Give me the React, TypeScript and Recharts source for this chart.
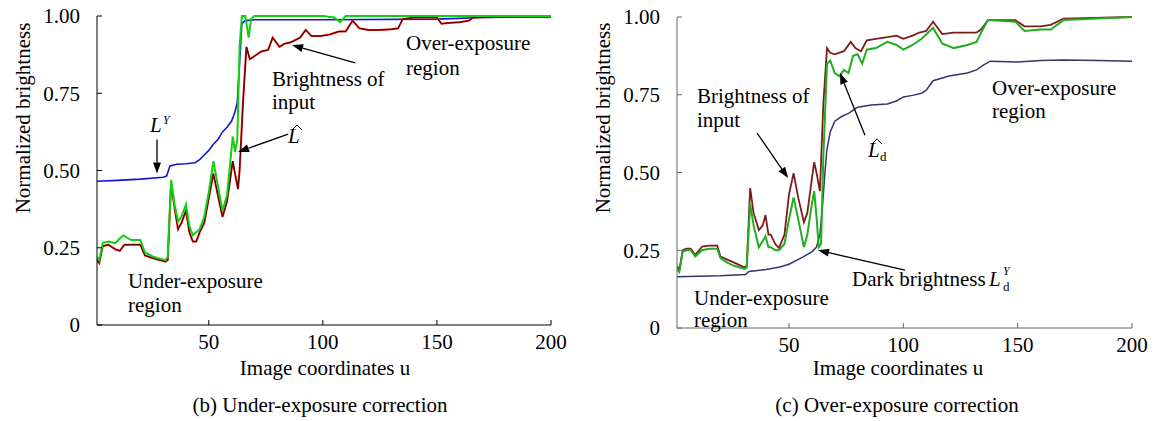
import React from "react";
import { LineChart, Line, XAxis, YAxis, ReferenceLine } from "recharts";

const FONT = '"Liberation Serif", "Times New Roman", serif';

const xTicks = [50, 100, 150, 200];
const yTicks = [0, 0.25, 0.5, 0.75, 1];

// (b) under-exposure correction
const underLumaU = [1, 10, 20, 30, 31.5, 33, 36, 40, 44, 46, 48, 50, 52, 54, 56, 58, 60, 61.5, 62.5, 63.5, 64.5, 66, 70, 100, 150, 170, 200];
const underLumaV = [0.465, 0.468, 0.472, 0.478, 0.482, 0.515, 0.52, 0.522, 0.525, 0.535, 0.55, 0.565, 0.585, 0.6, 0.625, 0.64, 0.66, 0.69, 0.72, 0.85, 0.975, 0.985, 0.988, 0.988, 0.99, 0.995, 0.997];

const underInputU = [1, 2, 3.5, 6, 9, 11, 13, 16, 20, 22, 26, 31, 32, 33.5, 35, 36.5, 38, 40, 41.5, 43, 44.5, 46, 48, 50, 52, 54, 56, 58, 60.5, 61.5, 62.8, 63.5, 65, 66.5, 68, 70, 73, 76, 78, 80, 81, 83, 86, 90, 92.5, 95, 99, 103, 107, 110, 113, 116, 120, 125, 130, 133, 135, 140, 150, 152, 156, 160, 164, 166, 175, 200];
const underInputV = [0.21, 0.2, 0.255, 0.26, 0.245, 0.24, 0.26, 0.26, 0.26, 0.225, 0.215, 0.205, 0.21, 0.46, 0.38, 0.31, 0.33, 0.37, 0.3, 0.27, 0.27, 0.3, 0.33, 0.41, 0.49, 0.42, 0.35, 0.4, 0.53, 0.49, 0.44, 0.5, 0.72, 0.9, 0.86, 0.87, 0.885, 0.89, 0.93, 0.91, 0.9, 0.91, 0.915, 0.93, 0.955, 0.935, 0.935, 0.94, 0.95, 0.95, 0.985, 0.96, 0.955, 0.955, 0.957, 0.96, 0.99, 0.995, 0.995, 0.975, 0.978, 0.98, 0.985, 0.995, 0.997, 0.998];

const underHatU = [1, 2, 3.5, 6, 9, 11, 12.5, 16, 20, 22, 26, 31, 32, 33.5, 35, 36.5, 38, 40, 41.5, 43, 44.5, 46, 48, 50, 52, 54, 56, 58, 60.5, 61.5, 62.5, 63.5, 64.5, 66, 67.5, 68.5, 70, 100, 105, 107.5, 110, 200];
const underHatV = [0.22, 0.21, 0.265, 0.27, 0.265, 0.28, 0.29, 0.275, 0.275, 0.235, 0.22, 0.21, 0.22, 0.47, 0.39, 0.335, 0.35, 0.39, 0.32, 0.29, 0.3, 0.31, 0.35, 0.43, 0.53, 0.45, 0.37, 0.42, 0.61, 0.56, 0.6, 0.9, 1.0, 1.0, 0.93, 0.99, 1.0, 1.0, 0.995, 0.98, 1.0, 1.0];

// (c) over-exposure correction
const overDarkU = [1, 10, 20, 31, 32.5, 40, 46, 50, 56, 60, 62, 63.5, 64.5, 65.5, 66.5, 68, 70, 73, 76, 80, 86, 93, 97, 100, 104, 108, 110, 113, 120, 128, 132, 135, 138, 150, 160, 170, 185, 200];
const overDarkV = [0.165, 0.166, 0.168, 0.172, 0.182, 0.188, 0.196, 0.205, 0.228, 0.245, 0.26, 0.3, 0.38, 0.48, 0.57, 0.63, 0.665, 0.68, 0.69, 0.71, 0.717, 0.72, 0.73, 0.743, 0.748, 0.755, 0.765, 0.795, 0.81, 0.82, 0.83, 0.845, 0.858, 0.855, 0.86, 0.862, 0.86, 0.858];

const overInputU = [1, 2, 3.5, 5, 7, 9, 12, 15, 18.6, 20, 23, 26, 30.5, 31.5, 33, 34.5, 36.8, 38.5, 39.7, 41, 42, 44, 45.6, 48, 50, 52, 54, 56.5, 58, 60, 61, 62, 63.5, 65, 66.6, 68, 70, 74, 77, 79, 81.5, 84, 88, 93, 97, 100, 104, 107, 110, 113, 117, 122, 132, 134, 137, 149, 151, 153, 160, 164.5, 170, 200];
const overInputV = [0.2, 0.185, 0.25, 0.255, 0.255, 0.235, 0.262, 0.265, 0.265, 0.23, 0.22, 0.21, 0.195, 0.2, 0.45, 0.37, 0.315, 0.33, 0.363, 0.3, 0.3, 0.27, 0.257, 0.3, 0.43, 0.498, 0.42, 0.34, 0.37, 0.48, 0.533, 0.5, 0.44, 0.72, 0.9, 0.885, 0.88, 0.89, 0.92, 0.9, 0.89, 0.925, 0.93, 0.935, 0.94, 0.93, 0.94, 0.95, 0.955, 0.985, 0.945, 0.95, 0.95, 0.96, 0.99, 0.99, 0.98, 0.97, 0.97, 0.975, 0.995, 1.0];

const overHatU = [1, 2, 3.5, 5, 7, 9, 12, 15, 18.6, 20, 23, 26, 30.5, 31.5, 33, 34.5, 36.8, 38.5, 39.7, 41, 42, 44, 45.6, 48, 50, 52, 54, 56.5, 58, 60, 61, 62, 63, 64, 65, 66.6, 68, 70, 72, 74, 76, 78, 80, 82, 84, 88, 93, 97, 100, 104, 108, 113, 117, 122, 128, 132, 134, 137, 149, 151, 153, 160, 164.5, 170, 200];
const overHatV = [0.19, 0.18, 0.245, 0.25, 0.25, 0.23, 0.25, 0.255, 0.255, 0.225, 0.21, 0.2, 0.19, 0.195, 0.4, 0.33, 0.26, 0.28, 0.295, 0.26, 0.26, 0.25, 0.25, 0.27, 0.35, 0.42, 0.35, 0.26, 0.3, 0.4, 0.44, 0.36, 0.26, 0.27, 0.55, 0.85, 0.86, 0.82, 0.81, 0.83, 0.82, 0.875, 0.88, 0.85, 0.895, 0.9, 0.92, 0.91, 0.895, 0.91, 0.93, 0.965, 0.915, 0.9, 0.91, 0.92, 0.95, 0.99, 0.985, 0.97, 0.955, 0.96, 0.96, 0.99, 1.0];

const zip = (u: number[], v: number[]) => u.map((x, i) => ({ u: x, v: v[i] }));

const Arrow = (p: any) => {
  const { x1, y1, x2, y2 } = p;
  const a = Math.atan2(y2 - y1, x2 - x1);
  const len = 11;
  const w = 4;
  const bx = x2 - len * Math.cos(a);
  const by = y2 - len * Math.sin(a);
  const pts = `${x2},${y2} ${bx + w * Math.sin(a)},${by - w * Math.cos(a)} ${bx - w * Math.sin(a)},${by + w * Math.cos(a)}`;
  return (
    <g>
      <line x1={x1} y1={y1} x2={bx} y2={by} stroke="#000" strokeWidth={1.3} />
      <polygon points={pts} fill="#000" />
    </g>
  );
};

const fmtY = (v: number) => (v === 0 ? "0" : v.toFixed(2));

function Panel({ axisColor, margin, children }: { axisColor: string; margin: any; children: React.ReactNode }) {
  const tick = { fontSize: 21, fill: "#000", fontFamily: FONT };
  return (
    <LineChart width={margin.w} height={421} margin={{ top: margin.top, right: 29, left: 0, bottom: margin.bottom }}>
      <XAxis dataKey="u" type="number" domain={[1, 200]} ticks={xTicks} allowDataOverflow height={30}
        stroke={axisColor} tick={tick} tickSize={-5} tickMargin={14} />
      <XAxis xAxisId="top" orientation="top" type="number" domain={[1, 200]} ticks={xTicks} height={0}
        stroke={axisColor} tick={false} tickSize={-5} />
      <YAxis type="number" domain={[0, 1]} ticks={yTicks} width={97} stroke={axisColor} tick={tick}
        tickSize={-5} tickMargin={22} tickFormatter={fmtY} />
      <YAxis yAxisId="right" orientation="right" type="number" domain={[0, 1]} ticks={yTicks} width={0}
        stroke={axisColor} tick={false} tickSize={-5} />
      {children}
    </LineChart>
  );
}

export default function App() {
  const t = { fontFamily: FONT, fontSize: 21, fill: "#000" };
  return (
    <div style={{ position: "absolute", left: 0, top: 0, width: 1161, height: 421, background: "#fff" }}>
      <div style={{ position: "absolute", left: 0, top: 0 }}>
        <Panel axisColor="#000" margin={{ w: 580, top: 16, bottom: 66 }}>
          <Line data={zip(underLumaU, underLumaV)} dataKey="v" type="linear" stroke="#1414d8" strokeWidth={1.6} dot={false} isAnimationActive={false} />
          <Line data={zip(underInputU, underInputV)} dataKey="v" type="linear" stroke="#e01010" strokeWidth={2} dot={false} isAnimationActive={false} />
          <Line data={zip(underInputU, underInputV)} dataKey="v" type="linear" stroke="#3a0000" strokeWidth={0.9} dot={false} isAnimationActive={false} />
          <Line data={zip(underHatU, underHatV)} dataKey="v" type="linear" stroke="#10d010" strokeWidth={2} dot={false} isAnimationActive={false} />
          <ReferenceLine segment={[{ x: 27.3, y: 0.6 }, { x: 27.3, y: 0.49 }]} shape={Arrow} />
          <ReferenceLine segment={[{ x: 84.8, y: 0.618 }, { x: 62.8, y: 0.56 }]} shape={Arrow} />
          <ReferenceLine segment={[{ x: 114.2, y: 0.848 }, { x: 86.5, y: 0.906 }]} shape={Arrow} />
        </Panel>
      </div>
      <div style={{ position: "absolute", left: 580, top: 0 }}>
        <Panel axisColor="#666" margin={{ w: 581, top: 17, bottom: 63 }}>
          <Line data={zip(overDarkU, overDarkV)} dataKey="v" type="linear" stroke="#34346e" strokeWidth={1.5} dot={false} isAnimationActive={false} />
          <Line data={zip(overInputU, overInputV)} dataKey="v" type="linear" stroke="#7e1c1c" strokeWidth={1.8} dot={false} isAnimationActive={false} />
          <Line data={zip(overHatU, overHatV)} dataKey="v" type="linear" stroke="#1fae1f" strokeWidth={2} dot={false} isAnimationActive={false} />
          <ReferenceLine segment={[{ x: 36, y: 0.627 }, { x: 49.6, y: 0.482 }]} shape={Arrow} />
          <ReferenceLine segment={[{ x: 83.2, y: 0.62 }, { x: 72.3, y: 0.82 }]} shape={Arrow} />
          <ReferenceLine segment={[{ x: 100.7, y: 0.186 }, { x: 62.7, y: 0.25 }]} shape={Arrow} />
        </Panel>
      </div>
      <svg width={1161} height={421} style={{ position: "absolute", left: 0, top: 0, pointerEvents: "none" }}>
        {/* left panel */}
        <text {...t} transform="translate(30,118) rotate(-90)" textAnchor="middle">Normalized brightness</text>
        <text {...t} x={325} y={375} textAnchor="middle">Image coordinates u</text>
        <text {...t} x={320} y={412} textAnchor="middle">(b) Under-exposure correction</text>
        <text {...t} x={406} y={50}>Over-exposure</text>
        <text {...t} x={406} y={75}>region</text>
        <text {...t} x={272} y={86}>Brightness of</text>
        <text {...t} x={272} y={109}>input</text>
        <text {...t} x={288} y={143} fontStyle="italic">L</text>
        <path d="M292,130 L297,125 L302,130" fill="none" stroke="#000" strokeWidth={1} />
        <text {...t} x={150} y={132} fontStyle="italic">L</text>
        <text {...t} x={163} y={124} fontSize={12} fontStyle="italic">Y</text>
        <text {...t} x={128} y={288}>Under-exposure</text>
        <text {...t} x={128} y={312}>region</text>
        {/* right panel */}
        <text {...t} transform="translate(610,118) rotate(-90)" textAnchor="middle">Normalized brightness</text>
        <text {...t} x={898} y={375} textAnchor="middle">Image coordinates u</text>
        <text {...t} x={897} y={412} textAnchor="middle">(c) Over-exposure correction</text>
        <text {...t} x={697} y={103}>Brightness of</text>
        <text {...t} x={697} y={127}>input</text>
        <text {...t} x={868} y={157} fontStyle="italic">L</text>
        <path d="M872,144 L877,139 L882,144" fill="none" stroke="#000" strokeWidth={1} />
        <text {...t} x={880} y={161} fontSize={13}>d</text>
        <text {...t} x={992} y={95}>Over-exposure</text>
        <text {...t} x={992} y={118}>region</text>
        <text {...t} x={852} y={286}>Dark brightness</text>
        <text {...t} x={989} y={286} fontStyle="italic">L</text>
        <text {...t} x={1003} y={275} fontSize={12} fontStyle="italic">Y</text>
        <text {...t} x={1003} y={291} fontSize={13}>d</text>
        <text {...t} x={694} y={305}>Under-exposure</text>
        <text {...t} x={694} y={327}>region</text>
      </svg>
    </div>
  );
}
